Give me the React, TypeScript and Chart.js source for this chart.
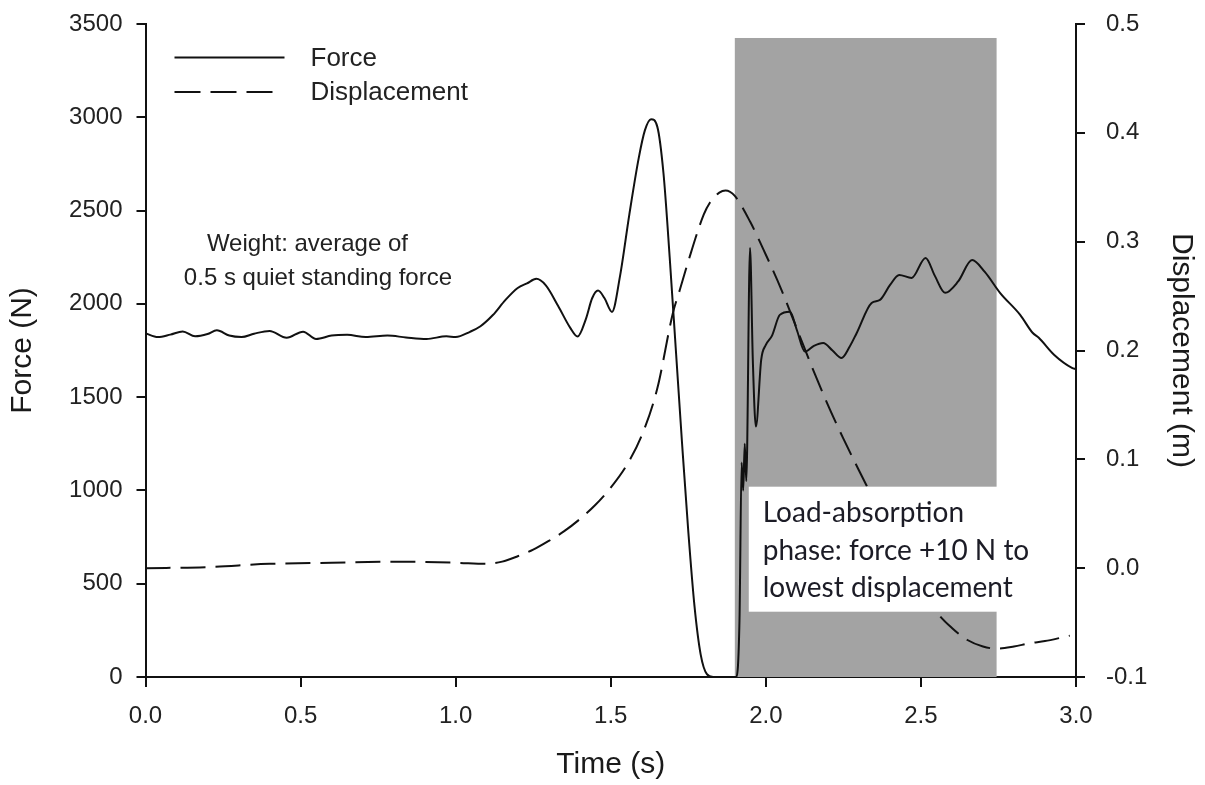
import React, { useEffect, useRef } from 'react';
import { Chart, registerables } from 'chart.js';

Chart.register(...registerables);

// ---- data ----
const forceTime = [
  0.0, 0.04, 0.08, 0.12, 0.16, 0.2, 0.23, 0.27, 0.31, 0.35, 0.4, 0.455, 0.508, 0.55, 0.6, 0.65,
  0.71, 0.78, 0.84, 0.906, 0.97, 1.0, 1.046, 1.08, 1.12, 1.16, 1.2, 1.23, 1.26, 1.29, 1.33, 1.37,
  1.393, 1.42, 1.44, 1.459, 1.48, 1.504, 1.53, 1.56, 1.59, 1.61, 1.63, 1.65, 1.67, 1.69, 1.71,
  1.73, 1.75, 1.77, 1.79, 1.81, 1.83, 1.905, 1.915, 1.922, 1.927, 1.932, 1.937, 1.949, 1.958,
  1.968, 1.985, 2.0, 2.02, 2.045, 2.078, 2.1, 2.126, 2.155, 2.185, 2.215, 2.244, 2.27, 2.293,
  2.341, 2.368, 2.4, 2.43, 2.47, 2.515, 2.545, 2.578, 2.62, 2.665, 2.706, 2.755, 2.82, 2.86,
  2.88, 2.93, 2.987, 3.0,
];
const forceValues = [
  1842, 1822, 1835, 1852, 1826, 1838, 1858, 1830, 1822, 1840, 1855, 1818, 1851, 1812, 1830, 1834,
  1822, 1830, 1820, 1812, 1826, 1822, 1850, 1880, 1940, 2020, 2085, 2110, 2134, 2100, 1990, 1870,
  1825, 1920, 2030, 2071, 2030, 1957, 2150, 2480, 2780, 2930, 2990, 2950, 2700, 2250, 1750,
  1250, 780, 380, 120, 15, 0, 0, 300, 1150, 1000, 1250, 1050, 2300, 1700,
  1342, 1700, 1780, 1830, 1941, 1958, 1860, 1744, 1775, 1790, 1750, 1710, 1770, 1844,
  2005, 2021, 2100, 2155, 2139, 2246, 2150, 2059, 2120, 2235, 2171, 2059, 1941, 1845,
  1818, 1726, 1657, 1650,
];

const dispTime = [
  0.0, 0.2, 0.4, 0.6, 0.8, 1.0, 1.1, 1.15, 1.2, 1.25, 1.3, 1.35, 1.4, 1.45, 1.5, 1.55, 1.6, 1.65,
  1.7, 1.723, 1.75, 1.8, 1.82, 1.85, 1.87, 1.9, 1.95, 2.0, 2.05, 2.1, 2.15, 2.2, 2.25, 2.3, 2.35,
  2.4, 2.45, 2.5, 2.55, 2.6, 2.65, 2.7, 2.745, 2.8, 2.85, 2.9, 2.95, 2.98,
];
const dispValues = [
  0.0, 0.001, 0.004, 0.005, 0.006, 0.005, 0.004, 0.006, 0.011, 0.017, 0.025, 0.034, 0.045, 0.058,
  0.074, 0.094, 0.122, 0.165, 0.234, 0.256, 0.282, 0.325, 0.336, 0.345, 0.347, 0.342, 0.318,
  0.288, 0.256, 0.22, 0.184, 0.15, 0.119, 0.09, 0.062, 0.036, 0.011, -0.016, -0.04, -0.055,
  -0.066, -0.072, -0.074, -0.072, -0.069, -0.067, -0.064, -0.062,
];

const seriesLabels = ['Force', 'Displacement'];

// shaded load-absorption phase (time range, force range)
const shadeTime = [1.9, 2.744];
const shadeForce = [0, 3425];

// annotation box (time range, force range) and its text
const noteBoxTime = [1.945, 2.85];
const noteBoxForce = [350, 1020];
const noteLines = ['Load-absorption', 'phase: force +10 N to', 'lowest displacement'];
const noteTextTime = 1.99;
const noteTextForce = [831, 627, 429];

const weightLines = ['Weight: average of', '0.5 s quiet standing force'];
const weightTime = [0.522, 0.556];
const weightForce = [2284, 2102];

const FONT = "'Liberation Sans', Arial, sans-serif";

const fmt1 = (v: any) => {
  const n = Number(v);
  return (Math.abs(n) < 1e-9 ? 0 : n).toFixed(1);
};

const shadePlugin = {
  id: 'shade',
  beforeDatasetsDraw(chart: any) {
    const { ctx, scales } = chart;
    const x = scales.x;
    const y = scales.y;
    const x0 = x.getPixelForValue(shadeTime[0]);
    const x1 = x.getPixelForValue(shadeTime[1]);
    const y0 = y.getPixelForValue(shadeForce[1]);
    const y1 = y.getPixelForValue(shadeForce[0]);
    ctx.save();
    ctx.fillStyle = '#a3a3a3';
    ctx.fillRect(x0, y0, x1 - x0, y1 - y0);
    ctx.restore();
  },
};

const notesPlugin = {
  id: 'notes',
  afterDatasetsDraw(chart: any) {
    const { ctx, scales, chartArea } = chart;
    const x = scales.x;
    const y = scales.y;
    ctx.save();
    // white note box
    const bx0 = x.getPixelForValue(noteBoxTime[0]);
    const bx1 = x.getPixelForValue(noteBoxTime[1]);
    const by0 = y.getPixelForValue(noteBoxForce[1]);
    const by1 = y.getPixelForValue(noteBoxForce[0]);
    ctx.fillStyle = '#ffffff';
    ctx.fillRect(bx0, by0, bx1 - bx0, by1 - by0);
    ctx.fillStyle = '#1c1c26';
    ctx.font = "28px Lato, 'Open Sans', sans-serif";
    ctx.textAlign = 'left';
    ctx.textBaseline = 'alphabetic';
    noteLines.forEach((t, i) => {
      ctx.fillText(t, x.getPixelForValue(noteTextTime), y.getPixelForValue(noteTextForce[i]));
    });
    // weight note
    ctx.fillStyle = '#222222';
    ctx.font = `24px ${FONT}`;
    ctx.textAlign = 'center';
    weightLines.forEach((t, i) => {
      ctx.fillText(t, x.getPixelForValue(weightTime[i]), y.getPixelForValue(weightForce[i]));
    });
    // legend
    const ds = chart.data.datasets;
    const lx = chartArea.left + 29;
    const ly = chartArea.top + 33.5;
    ctx.font = `26px ${FONT}`;
    ctx.textAlign = 'left';
    ctx.textBaseline = 'middle';
    ds.forEach((d: any, i: number) => {
      const yy = ly + i * 34.5;
      ctx.strokeStyle = d.borderColor;
      ctx.lineWidth = 2;
      ctx.setLineDash(d.borderDash ? [26, 10] : []);
      ctx.beginPath();
      ctx.moveTo(lx, yy);
      ctx.lineTo(lx + (d.borderDash ? 98 : 110), yy);
      ctx.stroke();
      ctx.setLineDash([]);
      ctx.fillStyle = '#222222';
      ctx.fillText(d.label, lx + 136, yy + 1);
    });
    ctx.restore();
  },
};

export default function App() {
  const ref = useRef<HTMLCanvasElement | null>(null);

  useEffect(() => {
    if (!ref.current) return;
    const forceData = forceTime.map((t, i) => ({ x: t, y: forceValues[i] }));
    const dispData = dispTime.map((t, i) => ({ x: t, y: dispValues[i] }));
    const axisGrid = {
      display: true,
      drawOnChartArea: false,
      drawTicks: true,
      tickLength: 9,
      tickWidth: 2,
      color: '#111111',
      lineWidth: 2,
    };
    const border = { display: true, color: '#111111', width: 2 };
    const tickFont = { family: FONT, size: 24 };
    const titleFont = { family: FONT, size: 30 };
    const zeroPad = (s: any) => {
      s.paddingTop = 0;
      s.paddingBottom = 0;
    };

    const chart = new Chart(ref.current, {
      type: 'line',
      data: {
        datasets: [
          {
            label: seriesLabels[0],
            data: forceData,
            yAxisID: 'y',
            borderColor: '#111111',
            borderWidth: 2,
            pointRadius: 0,
            cubicInterpolationMode: 'monotone',
            fill: false,
          },
          {
            label: seriesLabels[1],
            data: dispData,
            yAxisID: 'y1',
            borderColor: '#111111',
            borderWidth: 2,
            borderDash: [25, 10],
            pointRadius: 0,
            cubicInterpolationMode: 'monotone',
            fill: false,
          },
        ],
      },
      options: {
        animation: false,
        responsive: true,
        maintainAspectRatio: false,
        layout: { padding: { top: 24, left: 0, right: 0, bottom: 0 } },
        plugins: { legend: { display: false }, tooltip: { enabled: false } },
        scales: {
          x: {
            type: 'linear',
            min: 0,
            max: 3,
            grid: { ...axisGrid, tickLength: 10 },
            border,
            ticks: {
              stepSize: 0.5,
              font: tickFont,
              color: '#222222',
              padding: 15,
              maxRotation: 0,
              callback: fmt1,
            },
            title: {
              display: true,
              text: 'Time (s)',
              font: titleFont,
              color: '#1a1a1a',
              padding: { top: 0, bottom: 2 },
            },
            afterFit: (s: any) => {
              s.height = 108;
              s.paddingLeft = 0;
              s.paddingRight = 0;
            },
          },
          y: {
            type: 'linear',
            position: 'left',
            min: 0,
            max: 3500,
            grid: axisGrid,
            border,
            ticks: {
              stepSize: 500,
              font: tickFont,
              color: '#222222',
              padding: 14,
              callback: (v: any) => String(Math.round(Number(v))),
            },
            title: {
              display: true,
              text: 'Force (N)',
              font: titleFont,
              color: '#1a1a1a',
              padding: { top: 5, bottom: 0 },
            },
            afterFit: (s: any) => {
              s.width = 145.5;
              zeroPad(s);
            },
          },
          y1: {
            type: 'linear',
            position: 'right',
            min: -0.1,
            max: 0.5,
            grid: axisGrid,
            border,
            ticks: {
              stepSize: 0.1,
              font: tickFont,
              color: '#222222',
              padding: 21,
              callback: fmt1,
            },
            title: {
              display: true,
              text: 'Displacement (m)',
              font: titleFont,
              color: '#1a1a1a',
              padding: { top: 6, bottom: 0 },
            },
            afterFit: (s: any) => {
              s.width = 129;
              zeroPad(s);
            },
          },
        },
      },
      plugins: [shadePlugin, notesPlugin],
    } as any);
    return () => chart.destroy();
  }, []);

  return (
    <div style={{ position: 'absolute', left: 0, top: 0, width: 1205, height: 785, background: '#fff' }}>
      <canvas ref={ref} />
    </div>
  );
}
